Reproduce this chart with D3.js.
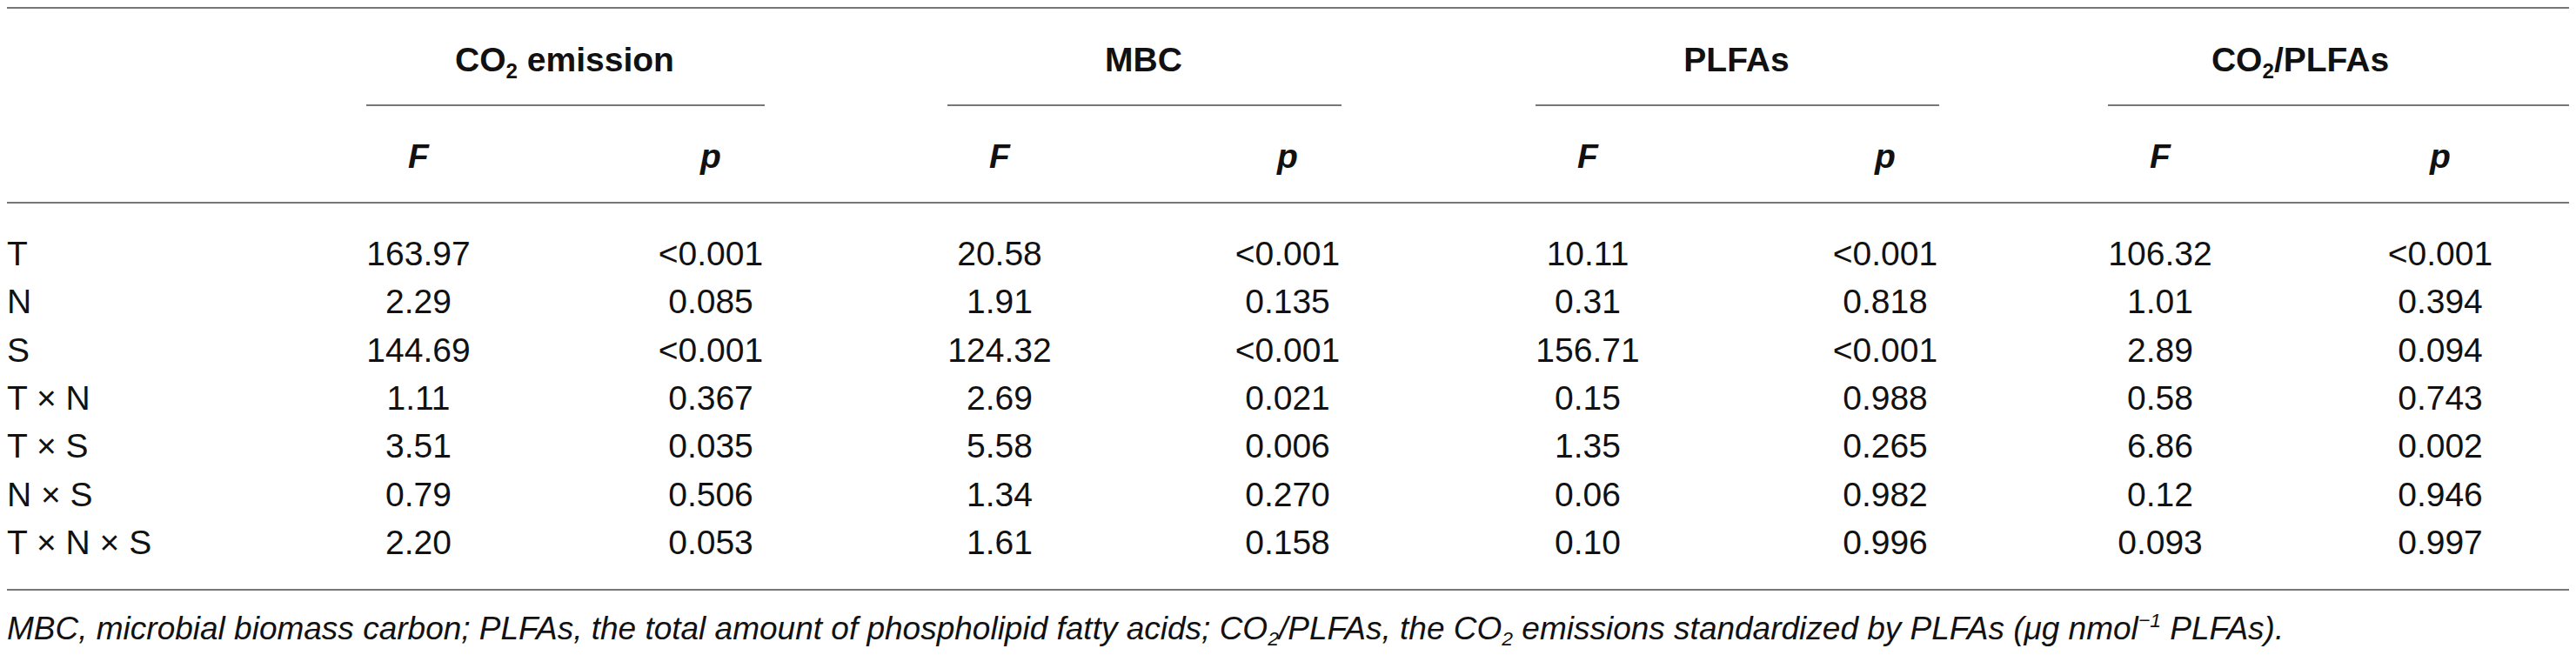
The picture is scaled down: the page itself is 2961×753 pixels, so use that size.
<!DOCTYPE html>
<html>
<head>
<meta charset="utf-8">
<script src="https://cdn.jsdelivr.net/npm/d3@7.9.0/dist/d3.min.js"></script>
<style>
  html, body { margin: 0; padding: 0; background: #fff; }
  svg { display: block; font-family: "Liberation Sans", Arial, sans-serif; }
</style>
</head>
<body>
<svg id="table" width="2961" height="753"></svg>
<script>
// table values
const terms = ['T', 'N', 'S', 'T \u00d7 N', 'T \u00d7 S', 'N \u00d7 S', 'T \u00d7 N \u00d7 S'];
const co2F = ['163.97', '2.29', '144.69', '1.11', '3.51', '0.79', '2.20'];
const co2P = ['<0.001', '0.085', '<0.001', '0.367', '0.035', '0.506', '0.053'];
const mbcF = ['20.58', '1.91', '124.32', '2.69', '5.58', '1.34', '1.61'];
const mbcP = ['<0.001', '0.135', '<0.001', '0.021', '0.006', '0.270', '0.158'];
const plfaF = ['10.11', '0.31', '156.71', '0.15', '1.35', '0.06', '0.10'];
const plfaP = ['<0.001', '0.818', '<0.001', '0.988', '0.265', '0.982', '0.996'];
const ratioF = ['106.32', '1.01', '2.89', '0.58', '6.86', '0.12', '0.093'];
const ratioP = ['<0.001', '0.394', '0.094', '0.743', '0.002', '0.946', '0.997'];

// group headers as [text, 'sub' | 'sup' | undefined] pieces
const groups = [
  [['CO'], ['2', 'sub'], [' emission']],
  [['MBC']],
  [['PLFAs']],
  [['CO'], ['2', 'sub'], ['/PLFAs']],
];
const statLabels = ['F', 'p'];
const columns = [co2F, co2P, mbcF, mbcP, plfaF, plfaP, ratioF, ratioP];

const footnote = [
  ['MBC, microbial biomass carbon; PLFAs, the total amount of phospholipid fatty acids; CO'],
  ['2', 'sub'],
  ['/PLFAs, the CO'],
  ['2', 'sub'],
  [' emissions standardized by PLFAs (\u03bcg nmol'],
  ['\u22121', 'sup'],
  [' PLFAs).'],
];

// layout
const left = 8, right = 2953;
const fs = 39;
const colX = d3.scaleOrdinal()
  .domain(d3.range(columns.length))
  .range([481, 817, 1149, 1480, 1825, 2167, 2483, 2805]);
const rowY = d3.scalePoint().domain(terms).range([305, 637]);

const svg = d3.select('#table');
const ink = '#111';
const rule = '#777';

function hline(y, x1, x2) {
  svg.append('line')
    .attr('x1', x1).attr('x2', x2)
    .attr('y1', y).attr('y2', y)
    .attr('stroke', rule).attr('stroke-width', 2);
}

// text with sub/superscript pieces; keeps track of the baseline shift
function rich(sel, pieces, size) {
  const shift = { sub: size * 0.2, sup: -size * 0.38 };
  let cur = 0;
  pieces.forEach(([t, kind]) => {
    const want = kind ? shift[kind] : 0;
    const ts = sel.append('tspan').text(t).attr('dy', want - cur);
    if (kind) ts.attr('font-size', size * 0.62);
    cur = want;
  });
}

// rules
hline(9, left, right);
hline(233, left, right);
hline(678, left, right);

// group headers + their underlines
groups.forEach((g, i) => {
  const xF = colX(i * 2), xP = colX(i * 2 + 1);
  const t = svg.append('text')
    .attr('x', (xF + xP) / 2).attr('y', 82)
    .attr('text-anchor', 'middle')
    .attr('font-weight', 'bold')
    .attr('font-size', fs)
    .attr('fill', ink);
  rich(t, g, fs);
  const x2 = i === groups.length - 1 ? right : xP + 62;
  hline(121, xF - 60, x2);
});

// F / p sub-headers
svg.selectAll('text.stat')
  .data(d3.range(columns.length))
  .join('text')
  .attr('class', 'stat')
  .attr('x', d => colX(d))
  .attr('y', 193)
  .attr('text-anchor', 'middle')
  .attr('font-weight', 'bold')
  .attr('font-style', 'italic')
  .attr('font-size', fs)
  .attr('fill', ink)
  .text(d => statLabels[d % 2]);

// row labels
svg.selectAll('text.term')
  .data(terms)
  .join('text')
  .attr('class', 'term')
  .attr('x', left)
  .attr('y', d => rowY(d))
  .attr('font-size', fs)
  .attr('fill', ink)
  .text(d => d);

// cells
columns.forEach((vals, c) => {
  svg.selectAll(`text.c${c}`)
    .data(vals)
    .join('text')
    .attr('class', `c${c}`)
    .attr('x', colX(c))
    .attr('y', (d, r) => rowY(terms[r]))
    .attr('text-anchor', 'middle')
    .attr('font-size', fs)
    .attr('fill', ink)
    .text(d => d);
});

// footnote
const fn = svg.append('text')
  .attr('x', left).attr('y', 735)
  .attr('font-style', 'italic')
  .attr('font-size', 37)
  .attr('fill', ink);
rich(fn, footnote, 37);
</script>
</body>
</html>
